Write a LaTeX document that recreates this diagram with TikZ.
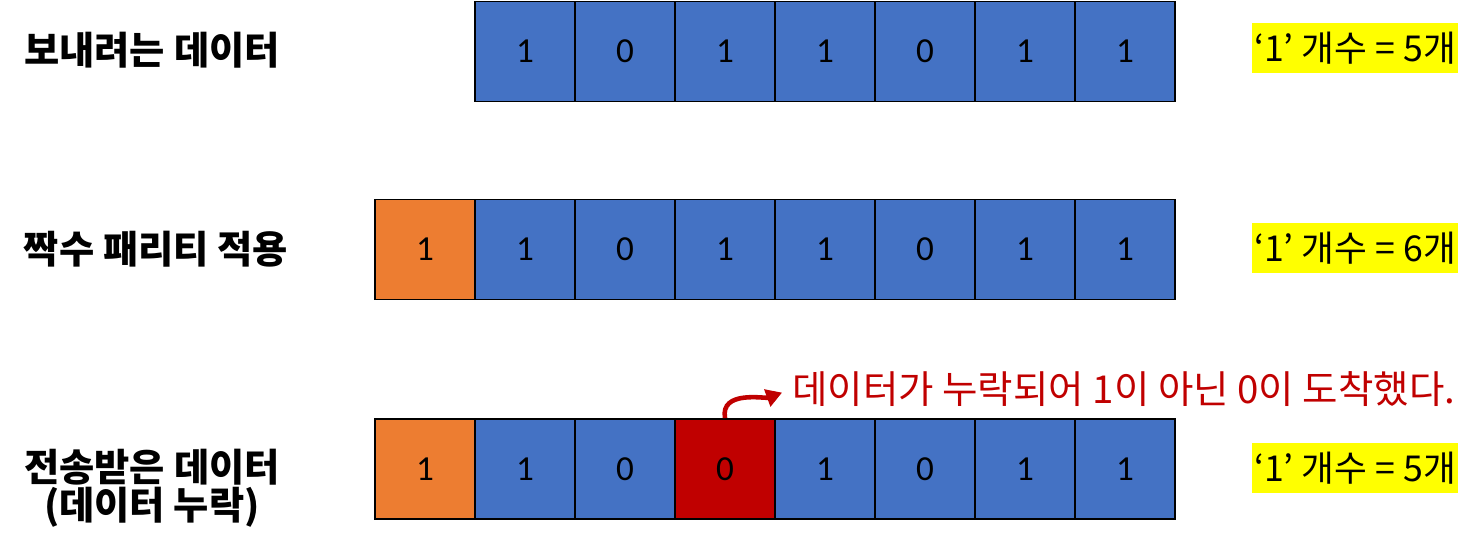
\documentclass[tikz,border=0pt]{standalone}
\usepackage{fontspec}
\setmainfont{Noto Sans CJK KR}
\newfontfamily\bitfont{Carlito}
\usetikzlibrary{arrows.meta, positioning}
\definecolor{bitblue}{RGB}{68, 114, 196}
\definecolor{parityorange}{RGB}{237, 125, 49}
\definecolor{lostred}{RGB}{192, 0, 0}
\definecolor{hiyellow}{RGB}{255, 255, 0}

\tikzset{
  bit/.style={draw, line width=1.1pt, fill=bitblue, minimum width=2cm, minimum height=2cm,
    inner sep=0pt, font=\bitfont\fontsize{20}{24}\selectfont},
  rowlabel/.style={font=\bfseries\fontsize{21.8}{21.5}\selectfont, align=center},
  countlabel/.style={fill=hiyellow, inner sep=1pt, minimum height=1cm, font=\fontsize{20.3}{24}\selectfont},
}

\begin{document}
\begin{tikzpicture}[x=0.02cm, y=-0.02cm]
  \useasboundingbox (0, 0) rectangle (1482, 560);

  % Data to send
  \node[rowlabel] (lbl-sent) at (152, 50) {보내려는 데이터};
  \foreach \v [count=\i from 2] in {1, 0, 1, 1, 0, 1, 1}
    \node[bit] (sent-\i) at ({325+100*\i}, 51.5) {\v};
  \node[countlabel] (cnt-sent) at (1355, 48) {‘1’ 개수 = 5개};

  % Even parity bit added
  \node[rowlabel] (lbl-par) at (156, 249) {짝수 패리티 적용};
  \foreach \v/\c [count=\i] in {1/parityorange, 1/bitblue, 0/bitblue, 1/bitblue, 1/bitblue, 0/bitblue, 1/bitblue, 1/bitblue}
    \node[bit, fill=\c] (par-\i) at ({325+100*\i}, 249.5) {\v};
  \node[countlabel] (cnt-par) at (1355, 248) {‘1’ 개수 = 6개};

  % Received data, one bit lost
  \node[rowlabel] (lbl-recv) at (152, 488) {전송받은 데이터\\(데이터 누락)};
  \foreach \v/\c [count=\i] in {1/parityorange, 1/bitblue, 0/bitblue, 0/lostred, 1/bitblue, 0/bitblue, 1/bitblue, 1/bitblue}
    \node[bit, fill=\c] (recv-\i) at ({325+100*\i}, 469) {\v};
  \node[countlabel] (cnt-recv) at (1355, 468) {‘1’ 개수 = 5개};

  % Note on the lost bit
  \node[anchor=west, inner sep=0pt, text=lostred, font=\fontsize{21.9}{24}\selectfont] (msg) at (792, 389)
    {데이터가 누락되어 1이 아닌 0이 도착했다.};
  \draw[lostred, line width=2.6pt, -{Triangle[length=9pt, width=10pt]}, shorten >=6pt]
    (recv-4.north) to[out=100, in=200] (msg.west);
\end{tikzpicture}
\end{document}
